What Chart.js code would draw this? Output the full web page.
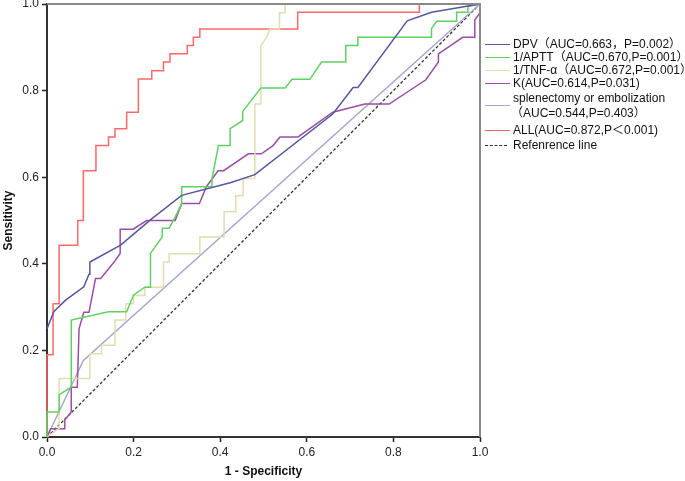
<!DOCTYPE html>
<html>
<head>
<meta charset="utf-8">
<script src="https://cdn.jsdelivr.net/npm/chart.js@4.4.1/dist/chart.umd.min.js"></script>
<style>
  html, body { margin:0; padding:0; background:#fff; }
  #wrap { position:relative; width:685px; height:481px; }
  #roc { position:absolute; left:0; top:0; }
  .lg { position:absolute; left:485px; font:12px "Liberation Sans", "Noto Sans CJK SC", sans-serif; color:#111; white-space:nowrap; }
  .lg .ln { position:absolute; left:0; width:25px; height:0; border-top:1.5px solid; }
  .lg .tx { position:absolute; left:28px; line-height:14px; }
</style>
</head>
<body>
<div id="wrap">
  <canvas id="roc" width="685" height="481"></canvas>
  <div id="legend"></div>
</div>
<script>
/* ---- ROC data (1 - specificity / sensitivity) ---- */
const dpvX  = [0, 0.016, 0.043, 0.085, 0.097, 0.099, 0.17, 0.243, 0.311, 0.423, 0.48, 0.66, 0.707, 0.718, 0.832, 0.888, 1];
const dpvY  = [0.25, 0.29, 0.316, 0.347, 0.376, 0.404, 0.443, 0.505, 0.558, 0.587, 0.606, 0.746, 0.807, 0.807, 0.961, 0.981, 1];

const apttX = [0, 0, 0.028, 0.028, 0.056, 0.056, 0.142, 0.184, 0.2, 0.226, 0.239, 0.239, 0.266, 0.266, 0.282, 0.3, 0.311, 0.311,
               0.381, 0.381, 0.396, 0.423, 0.423, 0.452, 0.452, 0.494, 0.55, 0.566, 0.607, 0.634, 0.69, 0.69, 0.718, 0.718,
               0.888, 0.888, 0.9, 0.946, 0.946, 0.972, 0.972, 1];
const apttY = [0, 0.058, 0.058, 0.098, 0.115, 0.27, 0.289, 0.289, 0.328, 0.346, 0.346, 0.424, 0.462, 0.482, 0.482, 0.516, 0.539, 0.578,
               0.578, 0.596, 0.673, 0.673, 0.712, 0.731, 0.752, 0.806, 0.806, 0.826, 0.826, 0.866, 0.866, 0.904, 0.904, 0.923,
               0.923, 0.943, 0.96, 0.96, 0.981, 0.981, 0.995, 1];

const tnfX  = [0, 0.028, 0.028, 0.099, 0.099, 0.126, 0.126, 0.157, 0.157, 0.182, 0.182, 0.2, 0.2, 0.226, 0.226, 0.269, 0.269,
               0.282, 0.282, 0.353, 0.353, 0.409, 0.409, 0.436, 0.436, 0.453, 0.453, 0.48, 0.48, 0.494, 0.494, 0.507, 0.515,
               0.537, 0.537, 0.55, 0.55, 1];
const tnfY  = [0, 0.02, 0.135, 0.135, 0.192, 0.192, 0.212, 0.212, 0.27, 0.27, 0.308, 0.308, 0.327, 0.327, 0.346, 0.346, 0.404,
               0.404, 0.423, 0.423, 0.462, 0.462, 0.52, 0.52, 0.557, 0.557, 0.597, 0.597, 0.769, 0.769, 0.904, 0.923, 0.942,
               0.942, 0.98, 0.98, 1, 1];

const kX    = [0, 0.008, 0.041, 0.041, 0.056, 0.056, 0.07, 0.074, 0.085, 0.097, 0.112, 0.124, 0.155, 0.169, 0.169, 0.199, 0.23,
               0.296, 0.311, 0.352, 0.368, 0.395, 0.408, 0.465, 0.495, 0.522, 0.538, 0.58, 0.66, 0.734, 0.79, 0.875, 0.904,
               0.904, 0.96, 0.988, 0.988, 1, 1];
const kY    = [0, 0.019, 0.019, 0.039, 0.058, 0.115, 0.115, 0.25, 0.288, 0.288, 0.366, 0.366, 0.404, 0.424, 0.48, 0.48, 0.5,
               0.5, 0.539, 0.539, 0.578, 0.615, 0.615, 0.654, 0.654, 0.673, 0.693, 0.693, 0.75, 0.769, 0.769, 0.825, 0.866,
               0.885, 0.923, 0.923, 0.963, 0.98, 1];

const splX  = [0, 0.084, 1];
const splY  = [0, 0.177, 1];

const allX  = [0, 0, 0.014, 0.014, 0.028, 0.028, 0.071, 0.071, 0.084, 0.084, 0.113, 0.113, 0.142, 0.142, 0.157, 0.157, 0.184,
               0.184, 0.211, 0.211, 0.242, 0.242, 0.269, 0.269, 0.284, 0.284, 0.324, 0.324, 0.338, 0.338, 0.353, 0.353,
               0.579, 0.579, 0.86, 0.86, 1];
const allY  = [0, 0.19, 0.19, 0.308, 0.308, 0.443, 0.443, 0.5, 0.5, 0.615, 0.615, 0.673, 0.673, 0.693, 0.693, 0.712, 0.712,
               0.75, 0.75, 0.827, 0.827, 0.846, 0.846, 0.866, 0.866, 0.885, 0.885, 0.904, 0.904, 0.923, 0.923, 0.942,
               0.942, 0.981, 0.981, 1, 1];

const refX  = [0, 1];
const refY  = [0, 1];

const AXIS_TICKS = [0, 0.2, 0.4, 0.6, 0.8, 1.0];

const SERIES = [
  { name:'DPV（AUC=0.663，P=0.002）',   x:dpvX,  y:dpvY,  col:'#5656a0' },
  { name:'1/APTT（AUC=0.670,P=0.001）', x:apttX, y:apttY, col:'#5fd163' },
  { name:'1/TNF-α（AUC=0.672,P=0.001）',x:tnfX,  y:tnfY,  col:'#e2ddb0' },
  { name:'K(AUC=0.614,P=0.031)',        x:kX,    y:kY,    col:'#9a4ea6' },
  { name:['splenectomy or embolization','（AUC=0.544,P=0.403）'], x:splX, y:splY, col:'#a6a6d4' },
  { name:'ALL(AUC=0.872,P＜0.001)',     x:allX,  y:allY,  col:'#ff6868' },
  { name:'Refenrence line',             x:refX,  y:refY,  col:'#333', dash:[3,2], w:1.3 },
];

const FONT = '"Liberation Sans", Arial, sans-serif';
const pts  = (xs, ys) => xs.map((v, i) => ({ x:v, y:ys[i] }));

/* top + right frame, lighter than the axes */
const frame = {
  id:'frame',
  afterDatasetsDraw(c) {
    const { ctx, chartArea:a } = c;
    ctx.save();
    ctx.strokeStyle = '#8a8a8a';
    ctx.lineWidth = 2;
    ctx.beginPath();
    ctx.moveTo(a.left, a.top); ctx.lineTo(a.right, a.top); ctx.lineTo(a.right, a.bottom);
    ctx.stroke();
    ctx.restore();
  }
};

new Chart(document.getElementById('roc'), {
  type:'scatter',
  data:{ datasets: SERIES.map(s => ({
    label: Array.isArray(s.name) ? s.name.join(' ') : s.name,
    data: pts(s.x, s.y),
    showLine:true, borderColor:s.col, backgroundColor:s.col,
    borderWidth: s.w || 1.5, borderDash: s.dash || [],
    pointRadius:0, tension:0, clip:4,
  })) },
  options:{
    responsive:false, animation:false,
    layout:{ padding:{ left:0, right:205, top:4, bottom:0 } },
    plugins:{ legend:{ display:false }, tooltip:{ enabled:false } },
    scales:{
      x:{
        type:'linear', min:0, max:1,
        afterBuildTicks(s){ s.ticks = AXIS_TICKS.map(v => ({ value:v })); },
        afterFit(s){ s.height = 44; s.paddingLeft = 0; s.paddingRight = 0; },
        ticks:{ callback:v => v.toFixed(1), font:{ family:FONT, size:12 }, color:'#222', padding:3, maxRotation:0 },
        grid:{ drawOnChartArea:false, tickLength:5, tickColor:'#222', tickWidth:1.5 },
        border:{ color:'#333', width:2 },
        title:{ display:true, text:'1 - Specificity', color:'#111',
                font:{ family:FONT, size:12, weight:'bold' }, padding:{ top:0, bottom:2 } },
      },
      y:{
        type:'linear', min:0, max:1,
        afterBuildTicks(s){ s.ticks = AXIS_TICKS.map(v => ({ value:v })); },
        afterFit(s){ s.width = 47; s.paddingTop = 0; s.paddingBottom = 0; },
        ticks:{ callback:v => v.toFixed(1), font:{ family:FONT, size:12 }, color:'#222', padding:3 },
        grid:{ drawOnChartArea:false, tickLength:5, tickColor:'#222', tickWidth:1.5 },
        border:{ color:'#333', width:2 },
        title:{ display:true, text:'Sensitivity', color:'#111',
                font:{ family:FONT, size:12, weight:'bold' }, padding:{ top:1, bottom:0 } },
      },
    },
  },
  plugins:[frame],
});

/* legend, right of the plot */
const ROWS = [43.5, 56.5, 69.5, 82.5, 105, 130, 144.5];
const lg = document.getElementById('legend');
SERIES.forEach((s, i) => {
  const row = document.createElement('div');
  row.className = 'lg';
  row.style.top = ROWS[i] + 'px';
  const ln = document.createElement('div');
  ln.className = 'ln';
  ln.style.borderTopColor = s.col;
  if (s.dash) { ln.style.borderTopStyle = 'dashed'; ln.style.borderTopWidth = '1px'; ln.style.width = '22px'; }
  ln.style.top = '0px';
  row.appendChild(ln);
  const lines = Array.isArray(s.name) ? s.name : [s.name];
  lines.forEach((t, j) => {
    const tx = document.createElement('div');
    tx.className = 'tx';
    tx.textContent = t;
    const off = lines.length > 1 ? (j === 0 ? -7 : 8) : 0;
    tx.style.top = (off - 7) + 'px';
    if (j > 0) tx.style.left = '26px';
    row.appendChild(tx);
  });
  lg.appendChild(row);
});
</script>
</body>
</html>
